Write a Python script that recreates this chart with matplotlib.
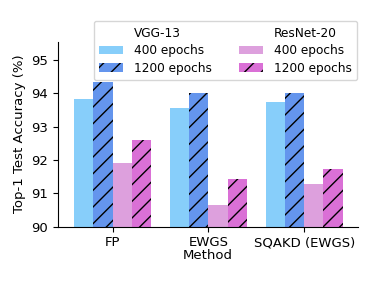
import numpy as np
import matplotlib.pyplot as plt
from matplotlib.patches import Patch

methods = ["FP", "EWGS", "SQAKD (EWGS)"]
vgg_400 = [93.82, 93.55, 93.74]
vgg_1200 = [94.34, 94.0, 94.02]
res_400 = [91.9, 90.65, 91.27]
res_1200 = [92.6, 91.42, 91.73]

series = [
    (vgg_400, "#87CEFA", None),
    (vgg_1200, "#6495ED", "//"),
    (res_400, "#DDA0DD", None),
    (res_1200, "#DA70D6", "//"),
]

plt.rcParams['font.size'] = 9.5
plt.rcParams['hatch.linewidth'] = 1.0

fig = plt.figure(figsize=(3.74, 2.81), dpi=100)
ax = fig.add_axes([0.155, 0.193, 0.802, 0.659])

x = np.arange(len(methods))
w = 0.2
for i, (vals, color, hatch) in enumerate(series):
    ax.bar(x + (i - 1.5) * w, vals, w, color=color, hatch=hatch,
           edgecolor="black" if hatch else "white", linewidth=0)

ax.set_ylim(90, 95.55)
ax.set_xlim(-0.57, 2.56)
ax.set_yticks([90, 91, 92, 93, 94, 95])
ax.set_xticks(x)
ax.set_xticklabels(methods)
ax.set_xlabel("Method", labelpad=0)
ax.set_ylabel("Top-1 Test Accuracy (%)")
ax.spines["top"].set_visible(False)
ax.spines["right"].set_visible(False)

blank = Patch(visible=False)
handles = [
    blank,
    Patch(facecolor="#87CEFA"),
    Patch(facecolor="#6495ED", hatch="//", edgecolor="black", linewidth=0),
    blank,
    Patch(facecolor="#DDA0DD"),
    Patch(facecolor="#DA70D6", hatch="//", edgecolor="black", linewidth=0),
]
labels = ["VGG-13", "400 epochs", "1200 epochs", "ResNet-20", "400 epochs", "1200 epochs"]
fig.legend(handles, labels, ncol=2, loc="upper right", bbox_to_anchor=(0.955, 0.925),
           borderaxespad=0, fontsize=8.7, handlelength=2.0, columnspacing=2.2,
           labelspacing=0.38, borderpad=0.45, handletextpad=0.9)

fig.savefig("out.png", dpi=100)
